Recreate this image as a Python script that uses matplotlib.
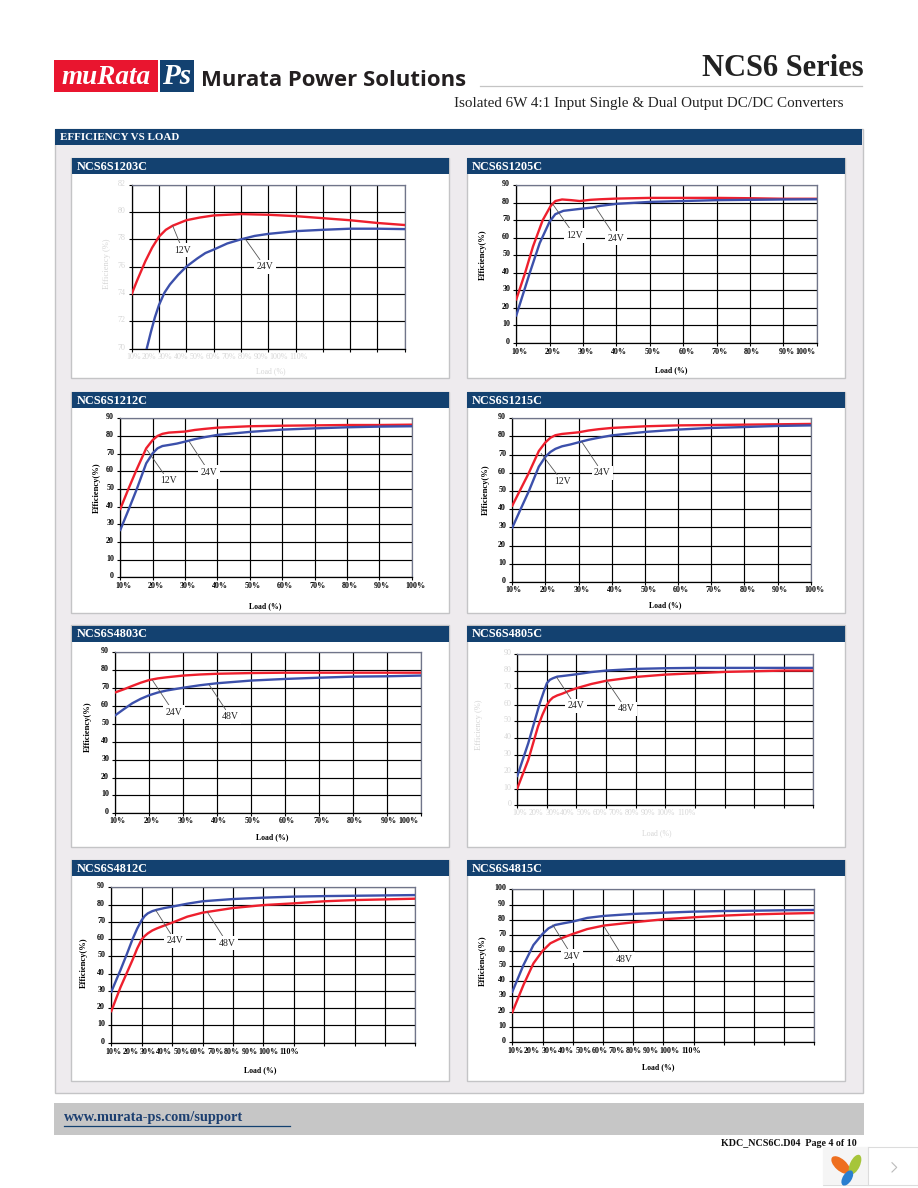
import matplotlib
matplotlib.use('Agg')
import matplotlib.pyplot as plt
from matplotlib.patches import Rectangle, Ellipse
from matplotlib.transforms import ScaledTranslation

plt.rcParams['font.family'] = ['Liberation Serif', 'DejaVu Serif']

W, H = 918, 1188
NAVY = '#134170'
RED = '#ee1f2d'
BLUE = '#3c50ab'
FADED = '#d6d6d6'

# ---- data ----
# NCS6S1203C
load_a_12 = [10, 12, 15, 17.5, 20, 22.5, 25, 30, 35, 40, 50, 60, 70, 80, 90, 100, 110]
eff_a_12 = [74, 75, 76.4, 77.4, 78.2, 78.7, 79, 79.4, 79.6, 79.75, 79.85, 79.8, 79.7, 79.55, 79.4, 79.2, 79.05]
load_a_24 = [15.5, 17, 18.5, 20, 22, 24, 27, 30, 34, 37, 40, 45, 50, 55, 60, 70, 80, 90, 100, 110]
eff_a_24 = [70, 71.2, 72.3, 73.2, 74.1, 74.7, 75.4, 76, 76.6, 77, 77.25, 77.7, 78, 78.25, 78.4, 78.6, 78.7, 78.78, 78.78, 78.75]
# NCS6S1205C
load_b_12 = [10, 12.6, 15, 17.9, 20.3, 21.7, 23.7, 26.5, 29, 32.3, 35, 40, 50, 60, 70, 80, 90, 100]
eff_b_12 = [24.8, 39.7, 55, 70, 78.2, 81, 81.9, 81.5, 81, 81.7, 82, 82.4, 82.8, 82.8, 82.8, 82.6, 82.3, 82.3]
load_b_24 = [10, 14, 17, 20, 21.7, 24.1, 29, 32.8, 35, 40, 50, 60, 70, 80, 90, 100]
eff_b_24 = [15.6, 39.7, 56.9, 69.3, 73.5, 75.4, 76.5, 77.3, 78.2, 79.4, 80.5, 81, 81.5, 81.7, 81.9, 82]
# NCS6S1212C
load_c_12 = [10, 12.5, 15, 18, 20, 21.5, 23, 25, 30, 33, 36, 40, 50, 60, 70, 80, 90, 100]
eff_c_12 = [38.7, 50, 60.8, 73, 77.7, 80, 81.2, 81.9, 82.5, 83.4, 84, 84.7, 85.5, 85.8, 86, 86.2, 86.2, 86.4]
load_c_24 = [10, 12.5, 15, 18, 20, 21.5, 23, 25, 27.5, 30, 33, 36, 40, 50, 60, 70, 80, 90, 100]
eff_c_24 = [26.8, 38, 49.5, 64.5, 70.2, 73, 74.3, 74.9, 75.7, 76.8, 78.2, 79.3, 80.6, 82.3, 83.6, 84.3, 84.9, 85.3, 85.5]
# NCS6S1215C
load_d_12 = [10, 12.5, 15, 18, 20, 21.5, 23, 25, 30, 33, 36, 40, 50, 60, 70, 80, 90, 100]
eff_d_12 = [42, 51, 60, 72, 76.8, 79.3, 80.7, 81.4, 82.3, 83.3, 84, 84.7, 85.6, 86.1, 86.3, 86.5, 86.7, 86.9]
load_d_24 = [10, 12.5, 15, 18, 20, 21.5, 23, 25, 27.5, 30, 33, 36, 40, 50, 60, 70, 80, 90, 100]
eff_d_24 = [29.9, 40, 50, 63.4, 68.9, 71.5, 73.2, 74.6, 75.6, 76.8, 78.2, 79.3, 80.6, 82.5, 83.8, 84.7, 85.2, 85.8, 86.1]
# NCS6S4803C
load_e = [10, 12.5, 15, 17.5, 20, 22.5, 25, 30, 35, 40, 50, 60, 70, 80, 90, 100]
eff_e_24 = [67.6, 69.3, 71.2, 73, 74.5, 75.4, 76, 77, 77.6, 78, 78.4, 78.6, 78.6, 78.6, 78.6, 78.6]
eff_e_48 = [54.8, 58.2, 61.5, 64, 66, 67.5, 68.6, 70.2, 71.6, 72.7, 74.2, 75.1, 75.8, 76.4, 76.6, 77]
# NCS6S4805C
load_f_24 = [10, 13.7, 15, 17.6, 19, 20, 21, 22, 23.5, 25, 30, 35, 40, 50, 60, 70, 80, 90, 100, 110]
eff_f_24 = [17.5, 37, 45, 60.8, 68, 72.8, 74.8, 75.7, 76.7, 77, 78.1, 79.4, 80.3, 81.3, 81.7, 81.9, 81.9, 81.9, 81.9, 81.9]
load_f_48 = [10, 13.7, 17, 18.5, 20, 21, 22, 23.5, 25, 27.5, 30, 35, 40, 50, 60, 70, 80, 90, 100, 110]
eff_f_48 = [10.1, 27, 47, 54, 59.8, 62.5, 64.2, 65.5, 66.4, 68.2, 69.8, 72.3, 74.2, 76.5, 77.9, 78.7, 79.5, 79.9, 80.3, 80.3]
# NCS6S4812C
load_g = [10, 13, 15, 17, 18.5, 20, 21, 22, 23.5, 25, 27.5, 30, 35, 40, 50, 60, 70, 80, 90, 100, 110]
eff_g_24 = [29.5, 42, 50.8, 60, 66, 71, 73.4, 74.9, 76.2, 77, 78, 78.8, 80.5, 81.9, 83.2, 84, 84.6, 84.9, 85.1, 85.3, 85.5]
eff_g_48 = [18.3, 32, 40, 48, 54.5, 59.8, 61.8, 63.3, 65, 66.2, 67.9, 69.5, 73, 75.3, 78, 79.7, 80.7, 81.9, 82.6, 83, 83.4]
# NCS6S4815C
load_h_24 = [10, 13.7, 17, 20, 22, 24.2, 27, 30, 34.8, 40.3, 50, 60, 70, 80, 90, 100, 110]
eff_h_24 = [33, 50.5, 63.6, 70.8, 74.5, 76.7, 77.8, 78.9, 81.3, 82.6, 83.9, 84.7, 85.4, 85.8, 86, 86.3, 86.5]
load_h_48 = [10, 13.7, 17, 20, 22.6, 25.3, 30, 34.8, 40.3, 50, 60, 70, 80, 90, 100, 110]
eff_h_48 = [19.6, 37.5, 51.6, 59.7, 64.7, 67.3, 70.8, 74, 76.3, 78.4, 80.4, 81.7, 82.8, 83.6, 84.1, 84.5]

tick_text_10 = ['10%', '20%', '30%', '40%', '50%', '60%', '70%', '80%', '90%', '100%']
tick_text_11 = tick_text_10 + ['110%']
grid_100 = [10, 20, 30, 40, 50, 60, 70, 80, 90, 100]
grid_110 = grid_100 + [110]

fig = plt.figure(figsize=(W / 100, H / 100), dpi=100, facecolor='white')
page = fig.add_axes([0, 0, 1, 1])
page.set_xlim(0, W)
page.set_ylim(H, 0)
page.axis('off')


def box(x0, y0, x1, y1, fc, ec='none', lw=0, z=1):
    page.add_patch(Rectangle((x0, y0), x1 - x0, y1 - y0, fc=fc, ec=ec, lw=lw, zorder=z))


def panel(name, px, py, plot, x_grid, y_min, y_max, y_step, tick_pos, tick_text, series, notes,
          ylab, ylab_xy, xlab, xlab_xy, faded=False, drop=9):
    # px, py = white panel box, plot = axes box, all in page pixels
    box(px[0], py[0], px[1], py[1], 'white', '#c4c4c6', 1.0, z=2)
    box(px[0] + 0.5, py[0] + 0.5, px[1] - 0.5, py[0] + 16.5, NAVY, z=3)
    page.text(px[0] + 5.5, py[0] + 9, name, color='white', fontsize=8.8, fontweight='bold',
              va='center', ha='left', zorder=4)

    l, t, r, b = plot
    ax = fig.add_axes([l / W, 1 - b / H, (r - l) / W, (b - t) / H], facecolor='none')
    ax.set_xticks(x_grid)
    ax.set_xticklabels([])
    ax.set_yticks(range(y_min, y_max + 1, y_step))
    ax.set_xlim(x_grid[0], x_grid[-1])
    ax.set_ylim(y_min, y_max)

    col = FADED if faded else 'black'
    weight = 'normal' if faded else 'bold'
    ax.tick_params(axis='x', length=2.2, width=0.8, color='black')
    ax.tick_params(axis='y', length=2.2, width=0.8, pad=2.2, labelsize=5.8, labelcolor=col)
    up = ScaledTranslation(0, 2 / 100, fig.dpi_scale_trans)
    for lab in ax.get_yticklabels():
        lab.set_fontweight(weight)
        lab.set_transform(lab.get_transform() + up)

    # labels in these charts do not sit under the gridlines, so they go on by hand
    for p, s in zip(tick_pos, tick_text):
        ax.annotate(s, xy=(p, 0), xycoords=ax.get_xaxis_transform(), xytext=(0, -drop * 0.72),
                    textcoords='offset points', ha='center', va='center', fontsize=5.8,
                    color=col, fontweight=weight, annotation_clip=False)

    ax.grid(True, color='black', lw=0.85)
    ax.set_axisbelow(True)
    for side in ['left', 'bottom']:
        ax.spines[side].set_color('black')
        ax.spines[side].set_linewidth(0.9)
    for side in ['top', 'right']:
        ax.spines[side].set_color('#70758a')
        ax.spines[side].set_linewidth(0.9)

    for xs, ys, c in series:
        ax.plot(xs, ys, color=c, lw=1.7, solid_joinstyle='round', zorder=3)

    for txt, xy, xytext in notes:
        ax.annotate(txt, xy=xy, xytext=xytext, fontsize=7, color='#222222', ha='center', va='center',
                    bbox=dict(fc='white', ec='none', pad=1.8),
                    arrowprops=dict(arrowstyle='-', color='#555555', lw=0.6, shrinkA=0, shrinkB=0),
                    zorder=5)

    page.text(ylab_xy[0], ylab_xy[1], ylab, rotation=90, color=col, fontsize=6.1, fontweight=weight,
              ha='center', va='center', zorder=4)
    page.text(xlab_xy[0], xlab_xy[1], xlab, color=col, fontsize=5.6, fontweight=weight,
              ha='center', va='center', zorder=4)


# ---- page furniture ----
box(54, 60, 158, 92, '#e9152f')
box(160, 60, 194, 92, NAVY)
page.text(106, 78, 'muRata', color='white', fontsize=19.5, fontweight='bold', fontstyle='italic',
          ha='center', va='center', zorder=3)
page.text(177, 76, 'Ps', color='white', fontsize=21, fontweight='bold', fontstyle='italic',
          ha='center', va='center', zorder=3)
page.text(201, 80, 'Murata Power Solutions', color='#231f20', fontsize=15.9, fontweight='bold',
          family='Open Sans', ha='left', va='center', zorder=3)
page.text(864, 68.5, 'NCS6 Series', color='#222222', fontsize=22, fontweight='bold',
          ha='right', va='center', zorder=3)
page.plot([480, 862], [85.7, 85.7], color='#c4c4c4', lw=0.9, zorder=2)
page.text(843, 103, 'Isolated 6W 4:1 Input Single & Dual Output DC/DC Converters', color='#222222',
          fontsize=10.9, ha='right', va='center', zorder=3)

box(54.5, 128.5, 862.5, 1093, '#eeebee', '#c4c4c6', 1.0, z=1)
box(55, 129, 862, 145, NAVY, z=2)
page.text(60, 137.3, 'EFFICIENCY VS LOAD', color='white', fontsize=7.9, fontweight='bold',
          va='center', ha='left', zorder=3)

box(54, 1103, 864, 1135, '#c6c6c6', z=1)
page.text(64, 1118, 'www.murata-ps.com/support', color='#1c3f70', fontsize=10.4, fontweight='bold',
          va='center', ha='left', zorder=2)
page.plot([64, 290], [1126, 1126], color=NAVY, lw=0.9, zorder=2)
page.text(857, 1144, 'KDC_NCS6C.D04  Page 4 of 10', color='#111111', fontsize=7.2, fontweight='bold',
          va='center', ha='right', zorder=2)

# little viewer widget in the corner
box(822.5, 1146.5, 917.5, 1185, 'white', '#dcdcdc', 0.8, z=5)
box(823, 1147, 868, 1184.5, '#f5f5f5', z=5)
page.plot([868.3, 868.3], [1147, 1185], color='#dcdcdc', lw=0.8, zorder=6)
page.add_patch(Ellipse((840.7, 1165), 23, 11.5, angle=42, fc='#ee6f1f', ec='none', zorder=6))
page.add_patch(Ellipse((855, 1164.5), 21, 10, angle=115, fc='#a6c53a', ec='none', zorder=6))
page.add_patch(Ellipse((847.3, 1178), 17, 9, angle=122, fc='#2a7fd0', ec='none', zorder=6))
page.plot([892, 896.7, 892], [1162.7, 1167.4, 1172], color='#bbbbbb', lw=0.8, zorder=6)

# ---- the eight charts ----
panel('NCS6S1203C', (71, 449), (157.5, 378), (131.7, 184.7, 404.7, 348.7), grid_110, 70, 82, 2,
      [10.6, 16.2, 22.2, 28, 33.9, 39.7, 45.6, 51.5, 57.3, 63.8, 71], tick_text_11,
      [(load_a_12, eff_a_12, RED), (load_a_24, eff_a_24, BLUE)],
      [('12V', (25, 79), (28.7, 77.2)), ('24V', (51.7, 78), (58.8, 76))],
      'Efficiency (%)', (107, 264), 'Load (%)', (270.7, 370.7), faded=True, drop=8)
panel('NCS6S1205C', (466.7, 845), (157.5, 378), (516.3, 185.3, 816.7, 342.7), grid_100, 0, 90, 10,
      [10.9, 20.8, 30.7, 40.9, 50.9, 61, 70.8, 80.7, 91, 96.6], tick_text_10,
      [(load_b_12, eff_b_12, RED), (load_b_24, eff_b_24, BLUE)],
      [('12V', (21, 79), (27.5, 61.3)), ('24V', (33.6, 77.9), (39.9, 59.7))],
      'Efficiency(%)', (482.7, 255), 'Load (%)', (671, 370), drop=9.5)
panel('NCS6S1212C', (71, 449), (391.7, 612.7), (120.3, 418.3, 411.7, 577.3), grid_100, 0, 90, 10,
      [10.9, 20.9, 30.8, 40.9, 50.9, 60.9, 70.9, 80.8, 90.8, 101.1], tick_text_10,
      [(load_c_12, eff_c_12, RED), (load_c_24, eff_c_24, BLUE)],
      [('12V', (18.3, 72), (24.9, 54.7)), ('24V', (31.3, 76.8), (37.5, 59.4))],
      'Efficiency(%)', (97, 488), 'Load (%)', (265, 606), drop=9)
panel('NCS6S1215C', (466.7, 845), (391.7, 612.7), (512.3, 418.3, 810.7, 582), grid_100, 0, 90, 10,
      [10.5, 20.6, 30.8, 40.9, 51.1, 60.8, 70.7, 80.9, 90.8, 101.2], tick_text_10,
      [(load_d_12, eff_d_12, RED), (load_d_24, eff_d_24, BLUE)],
      [('12V', (18.7, 70.7), (25.1, 55.2)), ('24V', (30.9, 77.2), (37.2, 60.1))],
      'Efficiency(%)', (486, 490), 'Load (%)', (665, 605), drop=8.3)
panel('NCS6S4803C', (71, 449), (625.3, 846.7), (115.3, 652.3, 420.7, 813.3), grid_100, 0, 90, 10,
      [10.6, 20.7, 30.7, 40.6, 50.6, 60.4, 70.7, 80.6, 90.6, 96.3], tick_text_10,
      [(load_e, eff_e_24, RED), (load_e, eff_e_48, BLUE)],
      [('24V', (20.9, 74.5), (27.2, 56.5)), ('48V', (37.7, 71.7), (43.9, 54))],
      'Efficiency(%)', (88, 727), 'Load (%)', (272, 837), drop=8)
panel('NCS6S4805C', (466.7, 845), (625.3, 846.7), (517.3, 654.3, 813.3, 805.3), grid_110, 0, 90, 10,
      [10.9, 16.3, 21.9, 26.9, 32.5, 37.9, 43.2, 48.7, 54, 60.2, 67], tick_text_11,
      [(load_f_24, eff_f_24, BLUE), (load_f_48, eff_f_48, RED)],
      [('24V', (23.3, 76.3), (29.7, 59.2)), ('48V', (40.2, 74.2), (46.7, 57.4))],
      'Efficiency (%)', (479, 725), 'Load (%)', (657, 833), faded=True, drop=7.5)
panel('NCS6S4812C', (71, 449), (859.7, 1080.7), (111.3, 887.3, 415.3, 1042.7), grid_110, 0, 90, 10,
      [10.7, 16.4, 22, 27.3, 33.1, 38.5, 44.2, 49.7, 55.5, 61.8, 68.4], tick_text_11,
      [(load_g, eff_g_24, BLUE), (load_g, eff_g_48, RED)],
      [('24V', (24.6, 76.8), (31, 59)), ('48V', (41.5, 75.9), (48.2, 57.5))],
      'Efficiency(%)', (84, 963), 'Load (%)', (260, 1070), drop=9.3)
panel('NCS6S4815C', (466.7, 845), (859.7, 1080.7), (512.3, 889.3, 814.3, 1042.3), grid_110, 0, 100, 10,
      [10.9, 16.6, 22.3, 27.8, 33.5, 39, 44.7, 50.2, 55.9, 62.2, 69.2], tick_text_11,
      [(load_h_24, eff_h_24, BLUE), (load_h_48, eff_h_48, RED)],
      [('24V', (23.4, 76.7), (29.8, 56.4)), ('48V', (40.4, 75.6), (47.1, 54.2))],
      'Efficiency(%)', (483, 961), 'Load (%)', (658, 1067), drop=9)

fig.savefig('out.png', dpi=100)
